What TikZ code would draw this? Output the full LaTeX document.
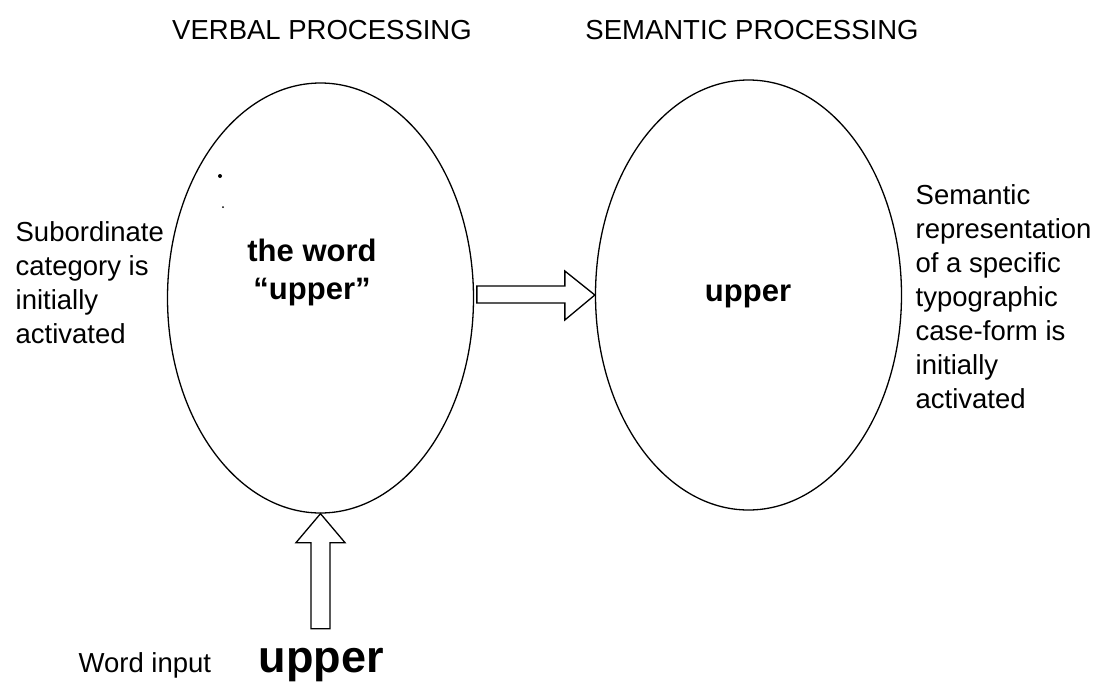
\documentclass[tikz,border=0pt]{standalone}
\usepackage{fontspec}
\setmainfont{Liberation Sans}
\usetikzlibrary{shapes.geometric}
\begin{document}
\begin{tikzpicture}[x=1pt,y=-1pt, line width=1.3pt,
  oval/.style={draw, ellipse, minimum width=306pt, minimum height=430pt, inner sep=0pt},
  side/.style={align=left, anchor=north west, inner sep=0pt, font=\fontsize{27.5}{34}\selectfont},
  head/.style={inner sep=0pt, font=\fontsize{27.5}{33}\selectfont},
  inner/.style={align=center, inner sep=0pt, font=\fontsize{31}{38}\selectfont\bfseries},
  blockarrow/.style={draw, line width=1.3pt, line join=miter}]
\useasboundingbox (0,0) rectangle (1098,683);
% ellipses
\node[oval] (verbal) at (320.5,298) {};
\node[oval] (semantic) at (748.5,295) {};
% headers
\node[head] (vhead) at (322,30) {VERBAL PROCESSING};
\node[head] (shead) at (752,30) {SEMANTIC PROCESSING};
% inner texts
\node[inner] (vtext) at (312,272) {the word\\“upper”};
\node[inner] (stext) at (748,296) {upper};
% side texts
\node[side] (vside) at (15,221) {Subordinate\\category is\\initially\\activated};
\node[side] (sside) at (915,184) {Semantic\\representation\\of a specific\\typographic\\case-form is\\initially\\activated};
% bottom
\node[anchor=base west, inner sep=0pt, font=\fontsize{27.5}{34}\selectfont] (winput) at (78,672) {Word input};
\node[anchor=base west, inner sep=0pt, font=\fontsize{45}{50}\selectfont\bfseries] (bword) at (258,672) {upper};
% block arrows
\draw[blockarrow] (semantic.west) -- ++(-30,-24) -- ++(0,15) -- ++(-88,0) -- ++(0,17) -- ++(88,0) -- ++(0,17) -- cycle;
\draw[blockarrow] (verbal.south) -- ++(24.5,29) -- ++(-15,0) -- ++(0,86) -- ++(-19,0) -- ++(0,-86) -- ++(-15,0) -- cycle;
% scan specks
\fill (220,176) circle (2pt);
\fill (223,207) circle (1pt);
\end{tikzpicture}
\end{document}
